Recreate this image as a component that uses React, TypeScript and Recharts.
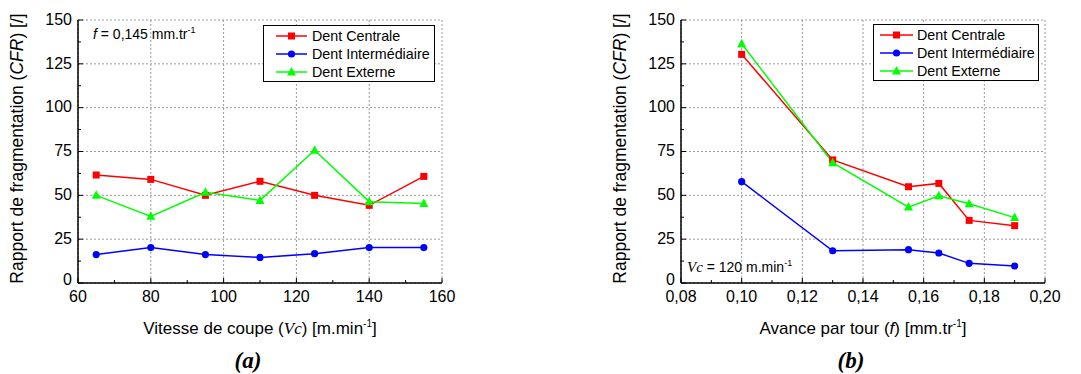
import { CartesianGrid, Label, Legend, Line, LineChart, XAxis, YAxis } from 'recharts';

const SANS = '"Liberation Sans", Arial, sans-serif';
const SERIF = '"Liberation Serif", "Times New Roman", serif';

// (a) Vc sweep, f = 0,145
const vitesse = [65, 80, 95, 110, 125, 140, 155];
const centraleA = [61.6, 59.1, 50, 58, 50, 44.3, 60.8];
const intermediaireA = [16.2, 20.2, 16.2, 14.6, 16.7, 20.2, 20.2];
const externeA = [50, 38, 51.7, 47.1, 75.7, 46.4, 45.4];

// (b) f sweep, Vc = 120
const avance = [0.1, 0.13, 0.155, 0.165, 0.175, 0.19];
const centraleB = [130.4, 70.2, 54.9, 56.8, 35.7, 32.7];
const intermediaireB = [57.8, 18.4, 19, 17.1, 11.2, 9.7];
const externeB = [136.5, 68.6, 43.3, 49.8, 45.2, 37.3];

const yMajor = [0, 25, 50, 75, 100, 125, 150];
const yMinor = [12.5, 37.5, 62.5, 87.5, 112.5, 137.5];
const vcMajor = [60, 80, 100, 120, 140, 160];
const vcMinor = [70, 90, 110, 130, 150];
const fMajor = [0.08, 0.1, 0.12, 0.14, 0.16, 0.18, 0.2];
const fMinor = [0.09, 0.11, 0.13, 0.15, 0.17, 0.19];

const SERIES = [
  { key: 'centrale', name: 'Dent Centrale', color: '#FF0000', shape: 'square' },
  { key: 'inter', name: 'Dent Intermédiaire', color: '#0000FF', shape: 'circle' },
  { key: 'externe', name: 'Dent Externe', color: '#00FF00', shape: 'triangle' },
];

const dataA = vitesse.map((x, i) => ({
  x,
  centrale: centraleA[i],
  inter: intermediaireA[i],
  externe: externeA[i],
}));
const dataB = avance.map((x, i) => ({
  x,
  centrale: centraleB[i],
  inter: intermediaireB[i],
  externe: externeB[i],
}));

const isIn = (arr: number[], v: number) => arr.some((m) => Math.abs(m - v) < 1e-9);

function Marker({ cx, cy, shape, color }: any) {
  if (cx == null || cy == null) return null;
  if (shape === 'square') return <rect x={cx - 3.5} y={cy - 3.5} width={7} height={7} fill={color} />;
  if (shape === 'circle') return <circle cx={cx} cy={cy} r={3.6} fill={color} />;
  return <polygon points={`${cx},${cy - 5} ${cx - 4.5},${cy + 3.5} ${cx + 4.5},${cy + 3.5}`} fill={color} />;
}

function renderLegend(pad: number, iconW: number, gap: number) {
  return () => (
    <div
      style={{
        boxSizing: 'border-box',
        border: '1px solid #000',
        background: '#fff',
        padding: `1px 0 0 ${pad}px`,
        height: 57,
        fontFamily: SANS,
        fontSize: 14.3,
        color: '#000',
      }}
    >
      {SERIES.map((s) => (
        <div key={s.key} style={{ display: 'flex', alignItems: 'center', height: 18 }}>
          <svg width={iconW} height={12}>
            <line x1={0} x2={iconW} y1={6} y2={6} stroke={s.color} strokeWidth={1.5} />
            <Marker cx={iconW / 2} cy={6} shape={s.shape} color={s.color} />
          </svg>
          <span style={{ marginLeft: gap, whiteSpace: 'nowrap' }}>{s.name}</span>
        </div>
      ))}
    </div>
  );
}

interface PanelProps {
  data: any[];
  width: number;
  xDomain: [number, number];
  xMajor: number[];
  xMinor: number[];
  fmtX: (v: number) => string;
  yAxisWidth: number;
  marginRight: number;
  yTitleX: number;
  xTitle: React.ReactNode;
  legend: { left: number; top: number; width: number; pad: number; iconW: number; gap: number };
}

function Panel(p: PanelProps) {
  const xTicks = [...p.xMajor, ...p.xMinor];
  const yTicks = [...yMajor, ...yMinor];

  const bottomTick = (t: any) => {
    const major = isIn(p.xMajor, t.payload.value);
    return (
      <g>
        <line x1={t.x} x2={t.x} y1={t.y} y2={t.y - (major ? 5 : 3)} stroke="#000" />
        {major && (
          <text x={t.x} y={t.y + 19} textAnchor="middle" fontSize={16} fontFamily={SANS} fill="#000">
            {p.fmtX(t.payload.value)}
          </text>
        )}
      </g>
    );
  };
  const topTick = (t: any) => {
    const major = isIn(p.xMajor, t.payload.value);
    return <line x1={t.x} x2={t.x} y1={t.y} y2={t.y + (major ? 5 : 3)} stroke="#000" />;
  };
  const leftTick = (t: any) => {
    const v = t.payload.value;
    const major = isIn(yMajor, v);
    return (
      <g>
        <line x1={t.x} x2={t.x + (major ? 5 : 3)} y1={t.y} y2={t.y} stroke="#000" />
        {major && (
          <text
            x={t.x - 6}
            y={t.y}
            dy={v === 0 ? '0.1em' : '0.3em'}
            textAnchor="end"
            fontSize={16}
            fontFamily={SANS}
            fill="#000"
          >
            {v}
          </text>
        )}
      </g>
    );
  };
  const rightTick = (t: any) => {
    const major = isIn(yMajor, t.payload.value);
    return <line x1={t.x} x2={t.x - (major ? 5 : 3)} y1={t.y} y2={t.y} stroke="#000" />;
  };

  const yTitle = (props: any) => {
    const vb = props.viewBox;
    const cx = vb.x + p.yTitleX;
    const cy = vb.y + vb.height / 2 - 3;
    return (
      <text
        x={cx}
        y={cy}
        transform={`rotate(-90 ${cx} ${cy})`}
        textAnchor="middle"
        fontSize={17.5}
        fontFamily={SANS}
        fill="#000"
      >
        Rapport de fragmentation (<tspan fontStyle="italic">CFR</tspan>) [/]
      </text>
    );
  };
  const xTitle = (props: any) => {
    const vb = props.viewBox;
    return (
      <text x={vb.x + vb.width / 2} y={vb.y + 51} textAnchor="middle" fontSize={17} fontFamily={SANS} fill="#000">
        {p.xTitle}
      </text>
    );
  };

  const axisLine = { stroke: '#000', strokeWidth: 1.5 };

  return (
    <LineChart
      width={p.width}
      height={374}
      data={p.data}
      margin={{ top: 20, right: p.marginRight, bottom: 0, left: 0 }}
    >
      <CartesianGrid
        xAxisId="b"
        yAxisId="l"
        verticalValues={p.xMajor}
        horizontalValues={yMajor}
        stroke="#9a9a9a"
        strokeDasharray="2 2"
      />
      <XAxis
        xAxisId="b"
        dataKey="x"
        type="number"
        domain={p.xDomain}
        ticks={xTicks}
        interval={0}
        allowDataOverflow
        height={91}
        tickSize={0}
        tickMargin={0}
        tickLine={false}
        axisLine={axisLine}
        tick={bottomTick}
      >
        <Label content={xTitle} />
      </XAxis>
      <XAxis
        xAxisId="t"
        orientation="top"
        dataKey="x"
        type="number"
        domain={p.xDomain}
        ticks={xTicks}
        interval={0}
        allowDataOverflow
        height={0}
        tickSize={0}
        tickMargin={0}
        tickLine={false}
        axisLine={axisLine}
        tick={topTick}
      />
      <YAxis
        yAxisId="l"
        type="number"
        domain={[0, 150]}
        ticks={yTicks}
        interval={0}
        width={p.yAxisWidth}
        tickSize={0}
        tickMargin={0}
        tickLine={false}
        axisLine={axisLine}
        tick={leftTick}
      >
        <Label content={yTitle} />
      </YAxis>
      <YAxis
        yAxisId="r"
        orientation="right"
        type="number"
        domain={[0, 150]}
        ticks={yTicks}
        interval={0}
        width={0}
        tickSize={0}
        tickMargin={0}
        tickLine={false}
        axisLine={axisLine}
        tick={rightTick}
      />
      <Legend
        layout="horizontal"
        verticalAlign="middle"
        align="center"
        content={renderLegend(p.legend.pad, p.legend.iconW, p.legend.gap)}
        wrapperStyle={{ left: p.legend.left, top: p.legend.top, width: p.legend.width }}
      />
      {SERIES.map((s) => (
        <Line
          key={s.key}
          xAxisId="b"
          yAxisId="l"
          dataKey={s.key}
          name={s.name}
          stroke={s.color}
          strokeWidth={1.5}
          isAnimationActive={false}
          dot={(d: any) => <Marker key={`${s.key}-${d.index}`} cx={d.cx} cy={d.cy} shape={s.shape} color={s.color} />}
          activeDot={false}
        />
      ))}
    </LineChart>
  );
}

const sup = (t: string) => (
  <>
    <tspan dy={-7} fontSize={10}>{t}</tspan>
    <tspan dy={7}>]</tspan>
  </>
);

export default function App() {
  return (
    <div style={{ position: 'absolute', left: 0, top: 0, width: 1081, height: 374, background: '#fff' }}>
      <div style={{ position: 'absolute', left: 0, top: 0 }}>
        <Panel
          data={dataA}
          width={540}
          xDomain={[60, 160]}
          xMajor={vcMajor}
          xMinor={vcMinor}
          fmtX={(v) => String(v)}
          yAxisWidth={78}
          marginRight={98}
          yTitleX={23}
          xTitle={
            <>
              Vitesse de coupe (<tspan fontFamily={SERIF} fontStyle="italic">Vc</tspan>) [m.min
              {sup('-1')}
            </>
          }
          legend={{ left: 263, top: 25, width: 172, pad: 12, iconW: 31, gap: 5 }}
        />
      </div>
      <div style={{ position: 'absolute', left: 540, top: 0 }}>
        <Panel
          data={dataB}
          width={541}
          xDomain={[0.08, 0.2]}
          xMajor={fMajor}
          xMinor={fMinor}
          fmtX={(v) => v.toFixed(2).replace('.', ',')}
          yAxisWidth={141}
          marginRight={36}
          yTitleX={86}
          xTitle={
            <>
              Avance par tour (<tspan fontStyle="italic">f</tspan>) [mm.tr
              {sup('-1')}
            </>
          }
          legend={{ left: 333, top: 24, width: 166, pad: 6, iconW: 33, gap: 4 }}
        />
      </div>
      <svg
        width={1081}
        height={374}
        style={{ position: 'absolute', left: 0, top: 0, pointerEvents: 'none' }}
      >
        <text x={93} y={39} fontSize={14} fontFamily={SANS} fill="#000">
          <tspan fontStyle="italic">f</tspan> = 0,145 mm.tr
          <tspan dy={-6} fontSize={9}>-1</tspan>
        </text>
        <text x={687} y={272} fontSize={14} fontFamily={SANS} fill="#000">
          <tspan fontFamily={SERIF} fontStyle="italic" fontSize={15}>Vc</tspan> = 120 m.min
          <tspan dy={-6} fontSize={9}>-1</tspan>
        </text>
        <text x={248} y={368} textAnchor="middle" fontSize={23} fontFamily={SERIF} fontStyle="italic" fontWeight="bold" fill="#000">
          (a)
        </text>
        <text x={851} y={368} textAnchor="middle" fontSize={23} fontFamily={SERIF} fontStyle="italic" fontWeight="bold" fill="#000">
          (b)
        </text>
      </svg>
    </div>
  );
}
